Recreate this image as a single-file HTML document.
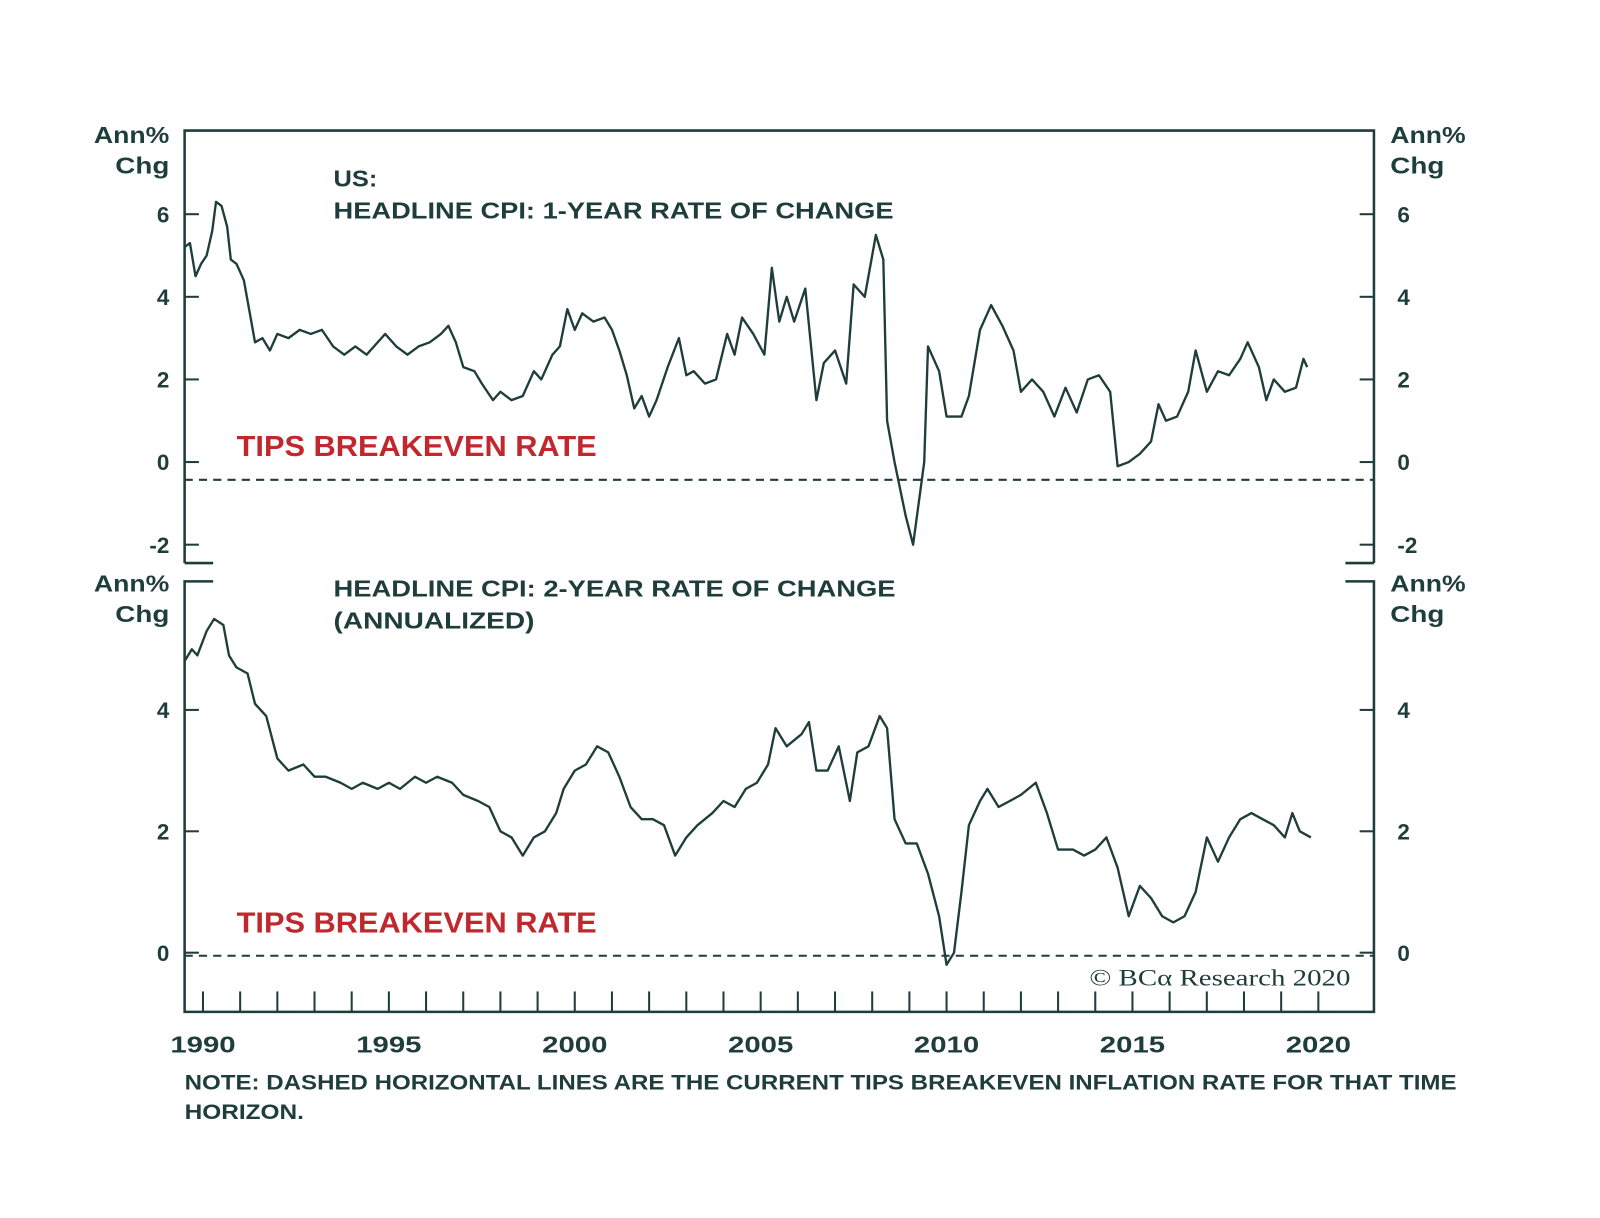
<!DOCTYPE html>
<html><head><meta charset="utf-8"><style>
html,body{margin:0;padding:0;background:#fff;}
svg{display:block;font-family:"Liberation Sans",sans-serif;font-weight:bold;}
</style></head><body>
<svg width="1600" height="1218" viewBox="0 0 1600 1218"><g id="chart" transform="scale(1.02)"></g></svg>
<script>
// Top panel: US headline CPI 1-year rate of change
const topYears=[1989.5,1989.65,1989.8,1989.95,1990.1,1990.25,1990.35,1990.5,1990.65,1990.75,1990.9,1991.1,1991.3,1991.4,1991.6,1991.8,1992.0,1992.3,1992.6,1992.9,1993.2,1993.5,1993.8,1994.1,1994.4,1994.6,1994.9,1995.2,1995.5,1995.8,1996.1,1996.4,1996.6,1996.8,1997.0,1997.3,1997.5,1997.8,1998.0,1998.3,1998.6,1998.9,1999.1,1999.4,1999.6,1999.8,2000.0,2000.2,2000.5,2000.8,2001.0,2001.2,2001.4,2001.6,2001.8,2002.0,2002.2,2002.5,2002.8,2003.0,2003.2,2003.5,2003.8,2004.1,2004.3,2004.5,2004.8,2005.1,2005.3,2005.5,2005.7,2005.9,2006.2,2006.5,2006.7,2007.0,2007.3,2007.5,2007.8,2008.1,2008.3,2008.4,2008.6,2008.9,2009.1,2009.4,2009.5,2009.8,2010.0,2010.4,2010.6,2010.9,2011.2,2011.5,2011.8,2012.0,2012.3,2012.6,2012.9,2013.2,2013.5,2013.8,2014.1,2014.4,2014.6,2014.9,2015.2,2015.5,2015.7,2015.9,2016.2,2016.5,2016.7,2017.0,2017.3,2017.6,2017.9,2018.1,2018.4,2018.6,2018.8,2019.1,2019.4,2019.6,2019.7];
const topValues=[5.2,5.3,4.5,4.8,5.0,5.6,6.3,6.2,5.7,4.9,4.8,4.4,3.4,2.9,3.0,2.7,3.1,3.0,3.2,3.1,3.2,2.8,2.6,2.8,2.6,2.8,3.1,2.8,2.6,2.8,2.9,3.1,3.3,2.9,2.3,2.2,1.9,1.5,1.7,1.5,1.6,2.2,2.0,2.6,2.8,3.7,3.2,3.6,3.4,3.5,3.2,2.7,2.1,1.3,1.6,1.1,1.5,2.3,3.0,2.1,2.2,1.9,2.0,3.1,2.6,3.5,3.1,2.6,4.7,3.4,4.0,3.4,4.2,1.5,2.4,2.7,1.9,4.3,4.0,5.5,4.9,1.0,0.0,-1.3,-2.0,0.0,2.8,2.2,1.1,1.1,1.6,3.2,3.8,3.3,2.7,1.7,2.0,1.7,1.1,1.8,1.2,2.0,2.1,1.7,-0.1,0.0,0.2,0.5,1.4,1.0,1.1,1.7,2.7,1.7,2.2,2.1,2.5,2.9,2.3,1.5,2.0,1.7,1.8,2.5,2.3];
// Bottom panel: 2-year rate of change (annualized)
const botYears=[1989.5,1989.7,1989.85,1990.1,1990.3,1990.55,1990.7,1990.9,1991.2,1991.4,1991.7,1992.0,1992.3,1992.7,1993.0,1993.3,1993.7,1994.0,1994.3,1994.7,1995.0,1995.3,1995.7,1996.0,1996.3,1996.7,1997.0,1997.4,1997.7,1998.0,1998.3,1998.6,1998.9,1999.2,1999.5,1999.7,2000.0,2000.3,2000.6,2000.9,2001.2,2001.5,2001.8,2002.1,2002.4,2002.7,2003.0,2003.3,2003.7,2004.0,2004.3,2004.6,2004.9,2005.2,2005.4,2005.7,2006.1,2006.3,2006.5,2006.8,2007.1,2007.4,2007.6,2007.9,2008.2,2008.4,2008.6,2008.9,2009.2,2009.5,2009.8,2010.0,2010.2,2010.4,2010.6,2010.9,2011.1,2011.4,2011.7,2012.0,2012.4,2012.7,2013.0,2013.4,2013.7,2014.0,2014.3,2014.6,2014.9,2015.2,2015.5,2015.8,2016.1,2016.4,2016.7,2017.0,2017.3,2017.6,2017.9,2018.2,2018.5,2018.8,2019.1,2019.3,2019.5,2019.8];
const botValues=[4.8,5.0,4.9,5.3,5.5,5.4,4.9,4.7,4.6,4.1,3.9,3.2,3.0,3.1,2.9,2.9,2.8,2.7,2.8,2.7,2.8,2.7,2.9,2.8,2.9,2.8,2.6,2.5,2.4,2.0,1.9,1.6,1.9,2.0,2.3,2.7,3.0,3.1,3.4,3.3,2.9,2.4,2.2,2.2,2.1,1.6,1.9,2.1,2.3,2.5,2.4,2.7,2.8,3.1,3.7,3.4,3.6,3.8,3.0,3.0,3.4,2.5,3.3,3.4,3.9,3.7,2.2,1.8,1.8,1.3,0.6,-0.2,0.0,1.0,2.1,2.5,2.7,2.4,2.5,2.6,2.8,2.3,1.7,1.7,1.6,1.7,1.9,1.4,0.6,1.1,0.9,0.6,0.5,0.6,1.0,1.9,1.5,1.9,2.2,2.3,2.2,2.1,1.9,2.3,2.0,1.9];
const topTicks=[6,4,2,0,-2];
const botTicks=[4,2,0];
const xLabels=[1990,1995,2000,2005,2010,2015,2020];
const topBreakeven=-0.43;
const botBreakeven=-0.05;

const C="#1f3d3a", RED="#c0282d";
const L=181,R=1347,T=128,B=992;
const xS=y=>199+(y-1990)*36.45;
const yTop=v=>453-v*40.5;
const yBot=v=>934-v*59.5;
const svg=document.getElementById('chart');
const NS="http://www.w3.org/2000/svg";
function mk(tag,attrs,parent){const e=document.createElementNS(NS,tag);for(const k in attrs)e.setAttribute(k,attrs[k]);(parent||svg).appendChild(e);return e;}
function txt(s,x,y,size,anchor,color,len){const a={x:x,y:y,'font-size':size,'text-anchor':anchor||'start',fill:color||C};if(len){a.textLength=len;a.lengthAdjust='spacingAndGlyphs';}const t=mk('text',a);t.textContent=s;return t;}

const frame=mk('path',{d:`M${L},552 L${L},${T} L${R},${T} L${R},552 M${L},552 L${L+28},552 M${R},552 L${R-28},552 M${L+28},570 L${L},570 L${L},${B} L${R},${B} L${R},570 L${R-28},570`,fill:'none',stroke:C,'stroke-width':2.5});



topTicks.forEach(v=>{
  const y=yTop(v);
  mk('line',{x1:L,x2:L+14,y1:y,y2:y,stroke:C,'stroke-width':2});
  mk('line',{x1:R-14,x2:R,y1:y,y2:y,stroke:C,'stroke-width':2});
  const a=txt(String(v),166,y+8,22,'end');
  const b=txt(String(v),1370,y+8,22,'start');
});
botTicks.forEach(v=>{
  const y=yBot(v);
  mk('line',{x1:L,x2:L+14,y1:y,y2:y,stroke:C,'stroke-width':2});
  mk('line',{x1:R-14,x2:R,y1:y,y2:y,stroke:C,'stroke-width':2});
  const a=txt(String(v),166,y+8,22,'end');
  const b=txt(String(v),1370,y+8,22,'start');
});
[[166,'end',140,'top-left-unit'],[1363,'start',140,'top-right-unit'],[166,'end',580,'bottom-left-unit'],[1363,'start',580,'bottom-right-unit']].forEach(a=>{
  const t1=txt('Ann%',a[0],a[2],23,a[1],C,74);
  const t2=txt('Chg',a[0],a[2]+30,23,a[1],C,53);
});
for(let yr=1990;yr<=2020;yr++){
  const x=xS(yr);
  const l=mk('line',{x1:x,x2:x,y1:B-20,y2:B,stroke:C,'stroke-width':2});
  
}
xLabels.forEach(yr=>{const t=txt(String(yr),xS(yr),1032,23,'middle',C,64);});

const d1=mk('line',{x1:L,x2:R,y1:yTop(topBreakeven),y2:yTop(topBreakeven),stroke:C,'stroke-width':2,'stroke-dasharray':'8,6'});

const d2=mk('line',{x1:L,x2:R,y1:yBot(botBreakeven),y2:yBot(botBreakeven),stroke:C,'stroke-width':2,'stroke-dasharray':'8,6'});


function line(xs,vs,yf,name){
  const n=Math.min(xs.length,vs.length);
  let d='';
  for(let i=0;i<n;i++) d+=(i?'L':'M')+xS(xs[i]).toFixed(1)+','+yf(vs[i]).toFixed(1)+' ';
  const p=mk('path',{d:d,fill:'none',stroke:C,'stroke-width':2.3,'stroke-linejoin':'round'});
  
}
line(topYears,topValues,yTop,'cpi-1yr-line');
line(botYears,botValues,yBot,'cpi-2yr-line');

let t;
t=txt('US:',327,183,23,'start',C,43);
t=txt('HEADLINE CPI: 1-YEAR RATE OF CHANGE',327,214,23,'start',C,549);
t=txt('HEADLINE CPI: 2-YEAR RATE OF CHANGE',327,585,23,'start',C,551);
t=txt('(ANNUALIZED)',327,616,23,'start',C,197);
t=txt('TIPS BREAKEVEN RATE',232,447,28,'start',RED,353);
t=txt('TIPS BREAKEVEN RATE',232,914,28,'start',RED,353);
t=mk('text',{x:1068,y:966,'font-size':23,'text-anchor':'start',fill:C,'font-family':'Liberation Serif, serif','font-weight':'normal',textLength:256,lengthAdjust:'spacingAndGlyphs'});
t.textContent='© BCα Research 2020';

t=txt('NOTE: DASHED HORIZONTAL LINES ARE THE CURRENT TIPS BREAKEVEN INFLATION RATE FOR THAT TIME',181,1068,21,'start',C,1247);
t=txt('HORIZON.',181,1097,21,'start',C,117);
</script>
</body></html>
